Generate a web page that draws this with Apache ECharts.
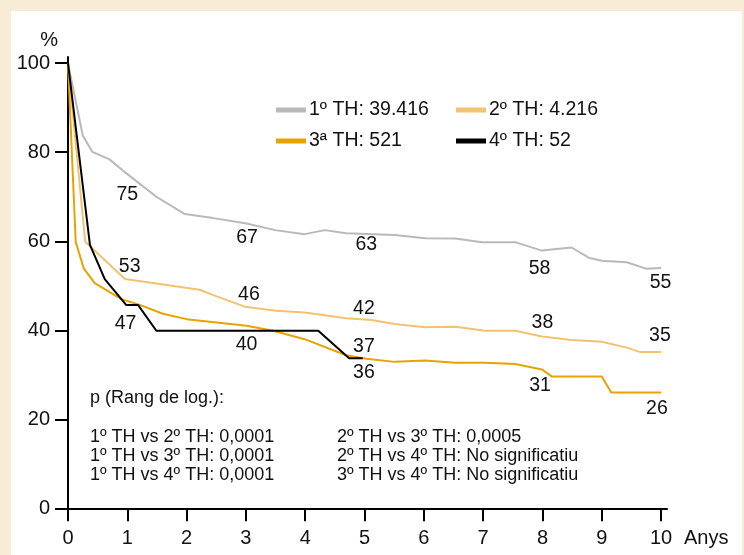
<!DOCTYPE html>
<html>
<head>
<meta charset="utf-8">
<script src="https://cdn.jsdelivr.net/npm/echarts@6/dist/echarts.min.js"></script>
<style>
html,body{margin:0;padding:0;background:#fff;}
#chart{width:744px;height:555px;}
</style>
</head>
<body>
<div id="chart"></div>
<script>
// ---- Data ----
const seriesNames = ['1º TH: 39.416', '2º TH: 4.216', '3ª TH: 521', '4º TH: 52'];
const seriesColors = ['#b9b9b9', '#f0c271', '#e8a300', '#000000'];

const th1 = [[0,100],[0.25,83.7],[0.41,80.1],[0.70,78.4],[0.98,75.3],[1.49,70.0],[1.97,66.1],[2.45,65.2],[3.01,64.0],[3.49,62.5],[3.99,61.6],[4.33,62.5],[4.69,61.8],[5.51,61.4],[6.02,60.7],[6.53,60.6],[6.98,59.8],[7.54,59.8],[7.99,57.9],[8.49,58.6],[8.78,56.3],[9.0,55.6],[9.42,55.3],[9.76,53.8],[10,54.0]];
const th2 = [[0,100],[0.29,59.9],[0.96,51.5],[2.22,49.1],[2.45,47.9],[2.98,45.3],[3.51,44.4],[3.99,44.0],[4.69,42.7],[5.12,42.3],[5.51,41.4],[6.02,40.7],[6.53,40.8],[7.03,39.9],[7.54,39.9],[7.99,38.6],[8.49,37.8],[9.0,37.4],[9.42,36.1],[9.65,35.1],[10,35.1]];
const th3 = [[0,100],[0.13,59.9],[0.265,53.9],[0.45,50.6],[0.90,47.0],[1.21,45.7],[1.60,43.7],[2.0,42.5],[3.01,41.0],[3.46,39.9],[3.99,38.0],[4.69,34.4],[5.03,33.6],[5.51,32.9],[6.02,33.2],[6.53,32.7],[7.03,32.7],[7.54,32.4],[7.99,31.2],[8.16,29.6],[9.0,29.6],[9.16,26.0],[10,26.0]];
const th4 = [[0,100],[0.37,59.2],[0.62,51.5],[0.98,45.7],[1.18,45.7],[1.49,39.9],[4.22,39.9],[4.74,33.7],[4.97,33.7]];

// value labels placed along curves: [year, %, text]
const labels1 = [[1.0,70.4,'75'],[3.02,60.9,'67'],[5.03,59.2,'63'],[7.95,53.9,'58'],[9.99,50.6,'55']];
const labels2 = [[1.04,54.3,'53'],[3.05,47.9,'46'],[4.99,44.9,'42'],[8.0,41.7,'38'],[9.98,38.7,'35']];
const labels3 = [[4.99,30.5,'36'],[7.96,27.5,'31'],[9.93,22.5,'26']];
const labels4 = [[0.97,41.6,'47'],[3.01,36.7,'40'],[4.99,36.3,'37']];

const xTicks = [0,1,2,3,4,5,6,7,8,9,10];
const yTicks = [0,20,40,60,80,100];
const xName = 'Anys';
const yName = '%';

const annotTitle = 'p (Rang de log.):';
const annotCol1 = ['1º TH vs 2º TH: 0,0001','1º TH vs 3º TH: 0,0001','1º TH vs 4º TH: 0,0001'];
const annotCol2 = ['2º TH vs 3º TH: 0,0005','2º TH vs 4º TH: No significatiu','3º TH vs 4º TH: No significatiu'];

// ---- Chart ----
const FONT = "'Liberation Sans', Arial, Helvetica, sans-serif";
const TXT = '#111111';
const chart = echarts.init(document.getElementById('chart'), null, {renderer:'canvas'});

const lineData = [th1, th2, th3, th4];
const labelData = [labels1, labels2, labels3, labels4];

const series = [];
lineData.forEach((d, i) => {
  series.push({
    name: seriesNames[i], type: 'line', data: d, symbol: 'none', showSymbol: false,
    lineStyle: {color: seriesColors[i], width: 2}, itemStyle: {color: seriesColors[i]},
    z: 3 + i, animation: false
  });
});
labelData.forEach((d) => {
  series.push({
    type: 'scatter', data: d, symbolSize: 1, itemStyle: {color: '#ffffff', opacity: 0},
    label: {show: true, position: 'inside', formatter: p => p.value[2],
      fontSize: 19.5, fontFamily: FONT, color: TXT, opacity: 1,
      textBorderWidth: 0, textShadowBlur: 0,
      verticalAlign: 'middle', align: 'center'},
    z: 10, animation: false, silent: true
  });
});

const legendPos = [[276,100],[456,100],[276,131],[456,131]];
const legends = seriesNames.map((n, i) => ({
  data: [n], left: legendPos[i][0], top: legendPos[i][1], padding: 0,
  icon: 'rect', itemWidth: 30, itemHeight: 5, itemGap: 0,
  selectedMode: false,
  textStyle: {fontSize: 19.5, fontFamily: FONT, color: TXT, padding: [0,0,0,-2]}
}));

const graphicEls = [
  {type:'rect', shape:{x:0,y:0,width:744,height:11}, style:{fill:'#f9ecd6'}, silent:true},
  {type:'rect', shape:{x:0,y:0,width:11,height:555}, style:{fill:'#f9ecd6'}, silent:true},
  {type:'rect', shape:{x:742,y:0,width:2,height:555}, style:{fill:'#f9ecd6'}, silent:true},
  {type:'text', x:90, y:398, style:{text: annotTitle, fontSize:18, fontFamily:FONT, fill:TXT, verticalAlign:'middle'}}
];
annotCol1.forEach((t, i) => graphicEls.push({type:'text', x:90, y:437.5 + 19*i,
  style:{text:t, fontSize:18, fontFamily:FONT, fill:TXT, verticalAlign:'middle'}}));
annotCol2.forEach((t, i) => graphicEls.push({type:'text', x:337, y:437.5 + 19*i,
  style:{text:t, fontSize:18, fontFamily:FONT, fill:TXT, verticalAlign:'middle'}}));

const axisCommon = {
  axisLine: {show: true, lineStyle: {color: '#000', width: 2}},
  splitLine: {show: false}
};

chart.setOption({
  backgroundColor: '#ffffff',
  animation: false,
  textStyle: {fontFamily: FONT},
  grid: {left: 68, top: 57, width: 599, height: 451.3, containLabel: false},
  xAxis: Object.assign({
    type: 'value', min: 0, max: 10.1,
    axisTick: {show: true, length: 13, inside: false, customValues: xTicks, lineStyle: {color:'#000', width: 2}},
    axisLabel: {customValues: xTicks, fontSize: 20, fontFamily: FONT, color: TXT, margin: 20},
    name: xName, nameLocation: 'end', nameGap: 17,
    nameTextStyle: {fontSize: 20, fontFamily: FONT, color: TXT, align: 'left', verticalAlign: 'top', padding: [20,0,0,0]}
  }, axisCommon),
  yAxis: Object.assign({
    type: 'value', min: 0, max: 101.4,
    axisTick: {show: true, length: 13, inside: false, customValues: yTicks, lineStyle: {color:'#000', width: 2}},
    axisLabel: {customValues: yTicks, fontSize: 20, fontFamily: FONT, color: TXT, margin: 18},
    name: yName, nameLocation: 'end', nameGap: 7,
    nameTextStyle: {fontSize: 20, fontFamily: FONT, color: TXT, align: 'right', padding: [0,10,0,0]}
  }, axisCommon),
  legend: legends,
  graphic: {elements: graphicEls},
  series: series
});
</script>
</body>
</html>
